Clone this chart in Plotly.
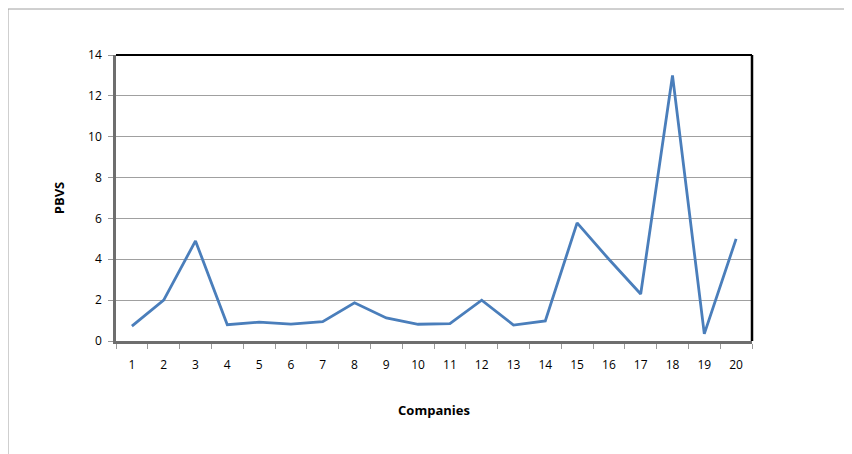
import plotly.graph_objects as go

companies = [str(i) for i in range(1, 21)]
pbvs = [0.73, 2.0, 4.9, 0.8, 0.92, 0.83, 0.95, 1.87, 1.13, 0.82,
        0.85, 2.0, 0.78, 0.98, 5.78, 4.0, 2.3, 13.0, 0.35, 5.0]

W, H = 852, 454
OFF = 8  # page offset of the figure
L, R, T, B = 116 - OFF, 752 - OFF, 55 - OFF, 341 - OFF

fig = go.Figure()
fig.add_trace(go.Scatter(x=companies, y=pbvs, mode="lines",
                         line=dict(color="#4a7ebb", width=2.8)))

pw, ph = R - L, B - T
def px(x): return (x - OFF - L) / pw
def py(y): return (B - (y - OFF)) / ph

fig.update_layout(
    width=W, height=H,
    margin=dict(l=L, r=W - R, t=T, b=H - B),
    paper_bgcolor="white", plot_bgcolor="white",
    showlegend=False,
    font=dict(family="Open Sans, DejaVu Sans", size=12, color="black"),
    xaxis=dict(type="category", tickson="boundaries", ticks="outside",
               range=[-0.5, 19.5],
               ticklen=5, tickcolor="#999", showgrid=False,
               ticklabelstandoff=11,
               showline=True, linecolor="#6e6e6e", linewidth=2.5,
               title=dict(text="<b>Companies</b>", standoff=34,
                          font=dict(size=13))),
    yaxis=dict(range=[0, 14], dtick=2, ticks="outside", ticklen=5,
               tickcolor="#999", showgrid=True, gridcolor="#a0a0a0",
               gridwidth=1, zeroline=False, ticklabelstandoff=4,
               showline=True, linecolor="#6e6e6e", linewidth=2.5,
               title=dict(text="<b>PBVS</b>", standoff=21,
                          font=dict(size=13))),
    shapes=[
        dict(type="line", xref="paper", yref="paper", x0=0, x1=1, y0=1, y1=1,
             line=dict(color="black", width=2)),
        dict(type="line", xref="paper", yref="paper", x0=1, x1=1, y0=0, y1=1,
             line=dict(color="black", width=2.5)),
        dict(type="rect", xref="paper", yref="paper",
             x0=px(8), x1=px(851), y0=py(9), y1=py(460),
             line=dict(color="#a0a0a0", width=1)),
    ],
)

fig.write_html("out.html")
